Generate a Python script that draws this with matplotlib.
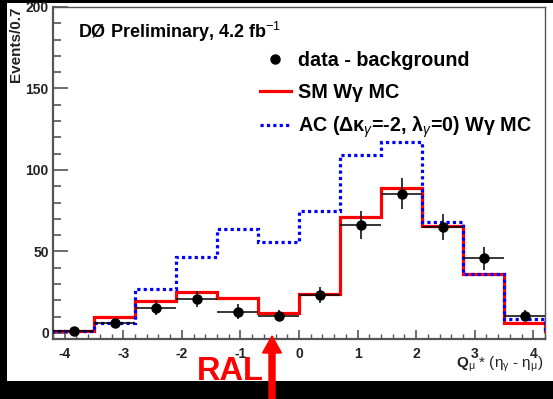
import matplotlib
matplotlib.use("Agg")
import matplotlib.pyplot as plt
import numpy as np
from matplotlib.lines import Line2D
from matplotlib.patches import Rectangle, FancyArrow
from matplotlib.ticker import MultipleLocator

plt.rcParams["font.family"] = ["Liberation Sans", "DejaVu Sans"]
plt.rcParams["axes.unicode_minus"] = False
plt.rcParams["mathtext.fontset"] = "custom"
plt.rcParams["mathtext.rm"] = "Liberation Sans"
plt.rcParams["mathtext.it"] = "Liberation Sans:italic"
plt.rcParams["mathtext.bf"] = "Liberation Sans:bold"

# bin edges (width 0.7)
edges = [-4.2, -3.5, -2.8, -2.1, -1.4, -0.7, 0.0, 0.7, 1.4, 2.1, 2.8, 3.5, 4.2]
centers = [-3.85, -3.15, -2.45, -1.75, -1.05, -0.35, 0.35, 1.05, 1.75, 2.45, 3.15, 3.85]

sm_mc = [1.5, 9.6, 19.8, 24.9, 21.2, 12.0, 23.7, 71.2, 88.7, 65.5, 36.1, 6.3]
ac_mc = [1.0, 6.3, 26.7, 46.7, 63.5, 55.9, 74.7, 109.0, 117.0, 68.1, 36.1, 8.4]
data = [1.0, 6.3, 15.5, 21.0, 13.0, 10.6, 23.3, 66.1, 85.5, 65.0, 45.7, 10.6]
data_err = [1.5, 3.0, 4.5, 5.0, 4.5, 3.5, 5.0, 8.5, 9.5, 8.0, 7.0, 3.5]
half_bin = 0.35

W, H = 553, 399
fig = plt.figure(figsize=(W / 100, H / 100), dpi=100, facecolor="black")

# white canvas inside the black border
fig.patches.append(Rectangle((7 / W, (H - 381) / H), 546 / W, 378 / H,
                             transform=fig.transFigure, facecolor="white",
                             edgecolor="none", zorder=-5))

ax = fig.add_axes([53 / W, (H - 339) / H, (545 - 53) / W, (339 - 7) / H])
ax.set_facecolor("white")

ax.stairs(sm_mc, edges, color="#ff0000", lw=2.3, zorder=3)
ax.stairs(ac_mc, edges, color="#0000ff", lw=2.3, ls=(0, (1, 1)), zorder=4)
ax.errorbar(centers, data, yerr=data_err, xerr=half_bin, fmt="o", color="black",
            ms=6.5, elinewidth=1.1, capsize=0, zorder=5)

ax.set_xlim(-4.2, 4.2)
ax.set_ylim(-3.7, 200)
ax.xaxis.set_major_locator(MultipleLocator(1))
ax.xaxis.set_minor_locator(MultipleLocator(0.2))
ax.yaxis.set_major_locator(MultipleLocator(50))
ax.yaxis.set_minor_locator(MultipleLocator(10))
ax.tick_params(axis="y", which="major", direction="in", length=11, width=1.2,
               color="#555555", labelsize=10, pad=3)
ax.tick_params(axis="y", which="minor", direction="in", length=6, width=1.2,
               color="#555555")
ax.tick_params(axis="x", which="major", direction="in", length=6.5, width=1.2,
               color="#555555", labelsize=10, pad=5.5)
ax.tick_params(axis="x", which="minor", direction="in", length=3.5, width=1.0,
               color="#555555")
for lab in ax.get_xticklabels() + ax.get_yticklabels():
    lab.set_fontweight("bold")
    lab.set_color("#222222")
for side in ["left", "bottom"]:
    ax.spines[side].set_color("#555555")
    ax.spines[side].set_linewidth(1.6)
for side in ["top", "right"]:
    ax.spines[side].set_color("#555555")
    ax.spines[side].set_linewidth(1.0)

ax.text(0.051, 0.962, "DØ Preliminary, 4.2 fb$^{-1}$", transform=ax.transAxes,
        fontsize=13, fontweight="bold", ha="left", va="top")

handles = [
    Line2D([], [], color="black", marker="o", ms=6.5, ls="none"),
    Line2D([], [], color="#ff0000", lw=2.3),
    Line2D([], [], color="#0000ff", lw=2.3, ls=(0, (1, 1))),
]
labels = [
    "data - background",
    "SM Wγ MC",
    "AC (Δκ$_{γ}$=-2, λ$_{γ}$=0) Wγ MC",
]
leg = ax.legend(handles, labels, loc="upper left", bbox_to_anchor=(0.42, 0.868),
                frameon=False, handlelength=1.6, handletextpad=0.35,
                labelspacing=0.66, borderaxespad=0, borderpad=0,
                prop={"size": 14.2, "weight": "bold"})

fig.text(16 / W, (H - 7) / H, "Events/0.7", rotation=90, ha="center", va="top",
         fontsize=11, fontweight="bold", color="#222222")
fig.text(543 / W, (H - 368) / H,
         r"$\mathbf{Q}_{\mathrm{\mu}}$ * ($\mathrm{\eta}_{\mathrm{\gamma}}$ - $\mathrm{\eta}_{\mathrm{\mu}}$)",
         ha="right", va="baseline", fontsize=11, color="#222222")

# annotation
fig.text(197 / W, (H - 380) / H, "RAL", color="#ff0000", fontsize=23.5,
         fontweight="bold", ha="left", va="baseline")
fig.patches.append(FancyArrow(272 / W, 0.0, 0, (H - 336) / H, width=6 / W,
                              head_width=19 / W, head_length=17 / H,
                              length_includes_head=True, transform=fig.transFigure,
                              color="#ff0000", zorder=10))

fig.savefig("out.png", dpi=100, facecolor="black")
